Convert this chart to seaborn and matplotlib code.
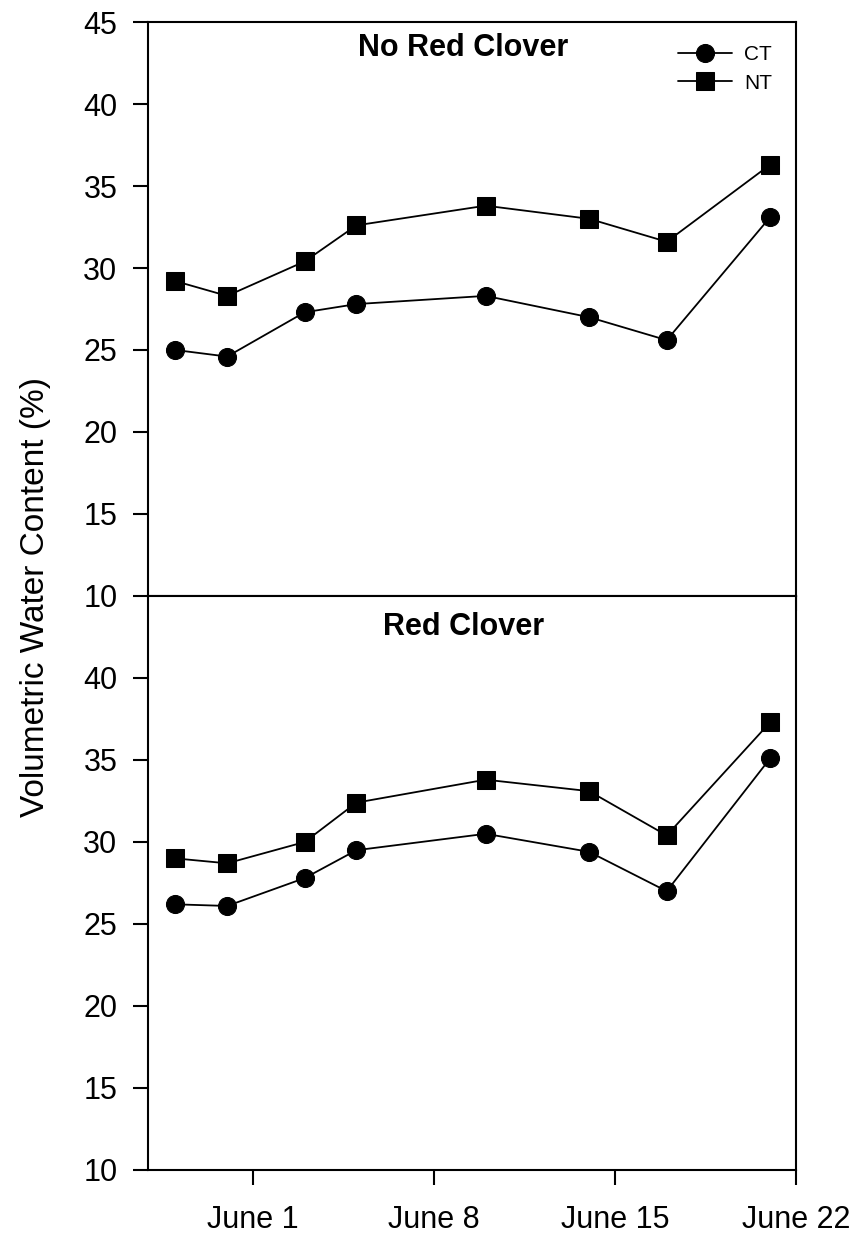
import pandas as pd
import matplotlib
matplotlib.use("Agg")
import matplotlib.pyplot as plt
import seaborn as sns

# sampling dates (2006 used as a placeholder year)
dates = ["2006-05-29", "2006-05-31", "2006-06-03", "2006-06-05",
         "2006-06-10", "2006-06-14", "2006-06-17", "2006-06-21"]

# volumetric water content (%)
no_clover_ct = [25.0, 24.6, 27.3, 27.8, 28.3, 27.0, 25.6, 33.1]
no_clover_nt = [29.2, 28.3, 30.4, 32.6, 33.8, 33.0, 31.6, 36.3]
clover_ct = [26.2, 26.1, 27.8, 29.5, 30.5, 29.4, 27.0, 35.1]
clover_nt = [29.0, 28.7, 30.0, 32.4, 33.8, 33.1, 30.4, 37.3]

panel_titles = ["No Red Clover", "Red Clover"]
tick_dates = ["2006-06-01", "2006-06-08", "2006-06-15", "2006-06-22"]
tick_labels = ["June 1", "June 8", "June 15", "June 22"]


def panel_frame(ct, nt):
    d = pd.to_datetime(dates)
    return pd.concat([
        pd.DataFrame({"date": d, "vwc": ct, "tillage": "CT"}),
        pd.DataFrame({"date": d, "vwc": nt, "tillage": "NT"}),
    ], ignore_index=True)


frames = [panel_frame(no_clover_ct, no_clover_nt), panel_frame(clover_ct, clover_nt)]

sns.set_style("ticks")
plt.rcParams["font.family"] = ["Liberation Sans", "DejaVu Sans"]
plt.rcParams["text.color"] = "black"
plt.rcParams["axes.linewidth"] = 1.5

fig = plt.figure(figsize=(8.6, 12.36), dpi=100)
ax_top = fig.add_axes([0.172, 0.5178, 0.7536, 0.4644])
ax_bot = fig.add_axes([0.172, 0.0534, 0.7536, 0.4644], sharex=ax_top)

for i, (ax, df) in enumerate(zip([ax_top, ax_bot], frames)):
    sns.lineplot(data=df, x="date", y="vwc", style="tillage",
                 markers={"CT": "o", "NT": "s"}, dashes=False,
                 color="black", markersize=13, linewidth=1.3,
                 markeredgecolor="black", ax=ax, legend=(i == 0))
    ax.set_ylim(10, 45)
    ax.set_xlim(pd.Timestamp("2006-05-27 22:30"), pd.Timestamp("2006-06-22"))
    ax.set_xlabel("")
    ax.set_ylabel("")
    ax.set_xticks(pd.to_datetime(tick_dates))
    ax.tick_params(axis="both", direction="out", length=11, width=1.5,
                   labelsize=22, colors="black")
    ax.tick_params(axis="y", pad=11)
    ax.tick_params(axis="x", pad=14)
    for s in ax.spines.values():
        s.set_color("black")
        s.set_linewidth(1.5)
    ax.text(0.487, 0.955 if i == 0 else 0.946, panel_titles[i],
            transform=ax.transAxes, ha="center", va="center",
            fontsize=22, fontweight="bold", color="black")

ax_top.set_yticks(range(10, 46, 5))
ax_bot.set_yticks(range(10, 41, 5))
ax_top.tick_params(axis="x", labelbottom=False)
ax_bot.set_xticklabels(tick_labels)

leg = ax_top.legend(loc="upper right", bbox_to_anchor=(0.983, 0.981),
                    frameon=False, fontsize=15, handlelength=2.6,
                    handletextpad=0.6, labelspacing=0.45, title=None,
                    borderaxespad=0.2)
for t in leg.get_texts():
    t.set_color("black")

fig.text(0.041, 0.517, "Volumetric Water Content (%)", rotation=90,
         ha="center", va="center", fontsize=24, color="black")

fig.savefig("out.png", dpi=100)
